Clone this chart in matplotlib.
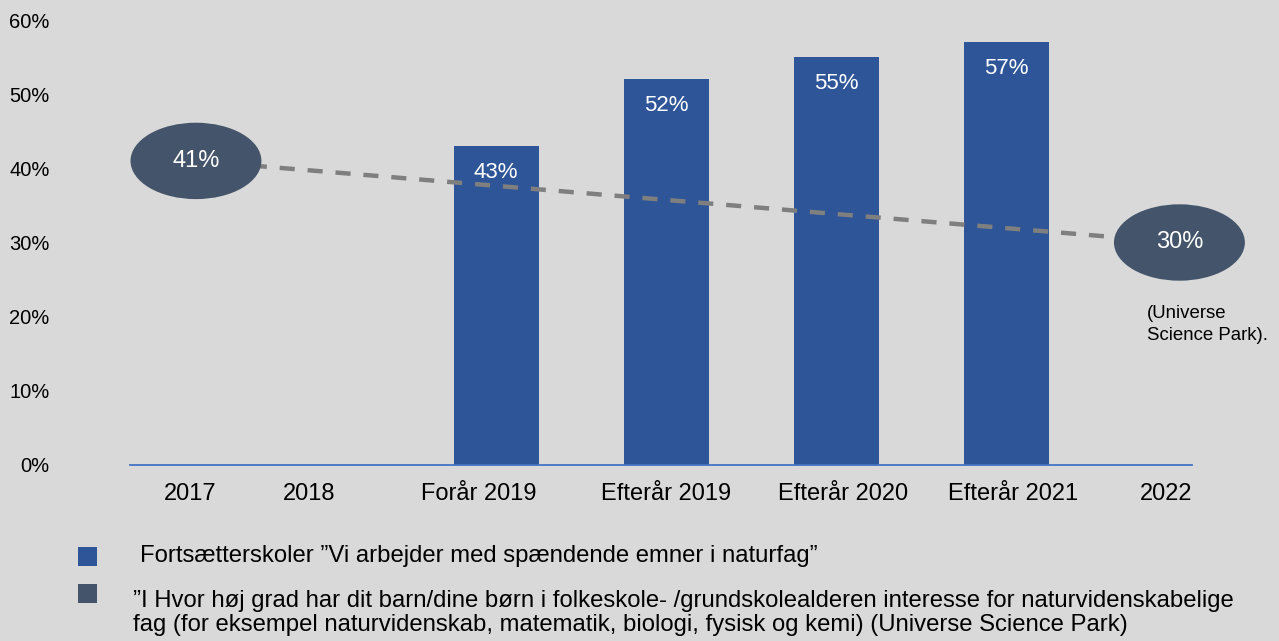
import matplotlib.pyplot as plt
from matplotlib.patches import Ellipse, Rectangle

plt.rcParams['font.family'] = ['Liberation Sans', 'DejaVu Sans']

# data
categories = ['2017', '2018', 'Forår 2019', 'Efterår 2019', 'Efterår 2020', 'Efterår 2021', '2022']
bar_labels = ['Forår 2019', 'Efterår 2019', 'Efterår 2020', 'Efterår 2021']
bar_values = [43, 52, 55, 57]
survey_labels = ['2017', '2022']
survey_values = [41, 30]
yticks = [0, 10, 20, 30, 40, 50, 60]

legend_bar = 'Fortsætterskoler \u201dVi arbejder med spændende emner i naturfag\u201d'
legend_survey = ('\u201dI Hvor høj grad har dit barn/dine børn i folkeskole- /grundskolealderen interesse for naturvidenskabelige\n'
                 'fag (for eksempel naturvidenskab, matematik, biologi, fysisk og kemi) (Universe Science Park)')
source_note = '(Universe\nScience Park).'

# layout (x positions on the axis)
bar_pos = [2, 3, 4, 5]
tick_pos = [0.2, 0.9, 1.9, 3.0, 4.04, 5.04, 5.94]
survey_pos = [0.235, 6.02]

bg = '#d9d9d9'
bar_color = '#2e5597'
ell_color = '#44546a'

fig = plt.figure(figsize=(12.79, 6.41), dpi=100, facecolor=bg)
ax = fig.add_axes([130/1279, 176/641, 1062/1279, 445/641])
ax.set_facecolor(bg)
ax.set_xlim(-0.153, 6.094)
ax.set_ylim(0, 60)

ax.bar(bar_pos, bar_values, width=0.5, color=bar_color, zorder=2)
for x, v in zip(bar_pos, bar_values):
    ax.annotate(f'{v}%', (x, v), xytext=(0, -19), textcoords='offset points',
                ha='center', va='center', color='white', fontsize=16, zorder=3)

# dashed trend line between the two survey values
ax.plot(survey_pos, survey_values, color='#7f7f7f', lw=3.2, dashes=(3.4, 2.9),
        zorder=3, clip_on=False)
for x, v in zip(survey_pos, survey_values):
    e = Ellipse((x, v), width=0.77, height=10.3, facecolor=ell_color,
                edgecolor='none', zorder=4, clip_on=False)
    ax.add_patch(e)
    ax.text(x, v, f'{v}%', ha='center', va='center', color='white',
            fontsize=17, zorder=5)

ax.text(5.83, 18.95, source_note, ha='left', va='center', fontsize=13.4,
        linespacing=1.4, color='black')

for s in ['top', 'right', 'left']:
    ax.spines[s].set_visible(False)
ax.spines['bottom'].set_color('#4472c4')
ax.spines['bottom'].set_linewidth(1.3)

ax.set_yticks(yticks)
ax.set_yticklabels([f'{t}%' for t in yticks], fontsize=14.5)
ax.tick_params(axis='y', length=0, pad=58)
ax.set_xticks(tick_pos)
ax.set_xticklabels(categories, fontsize=17)
ax.tick_params(axis='x', length=0, pad=13)

# legend drawn by hand
fig.patches.append(Rectangle((78/1279, 1 - 566/641), 19/1279, 19/641,
                             transform=fig.transFigure, facecolor=bar_color, edgecolor='none'))
fig.patches.append(Rectangle((78/1279, 1 - 603/641), 19/1279, 19/641,
                             transform=fig.transFigure, facecolor=ell_color, edgecolor='none'))
fig.text(140/1279, 1 - 556/641, legend_bar, ha='left', va='center', fontsize=17.2)
fig.text(133/1279, 1 - 613/641, legend_survey, ha='left', va='center', fontsize=17.2,
         linespacing=1.08)

fig.savefig('out.png', dpi=100, facecolor=bg)
